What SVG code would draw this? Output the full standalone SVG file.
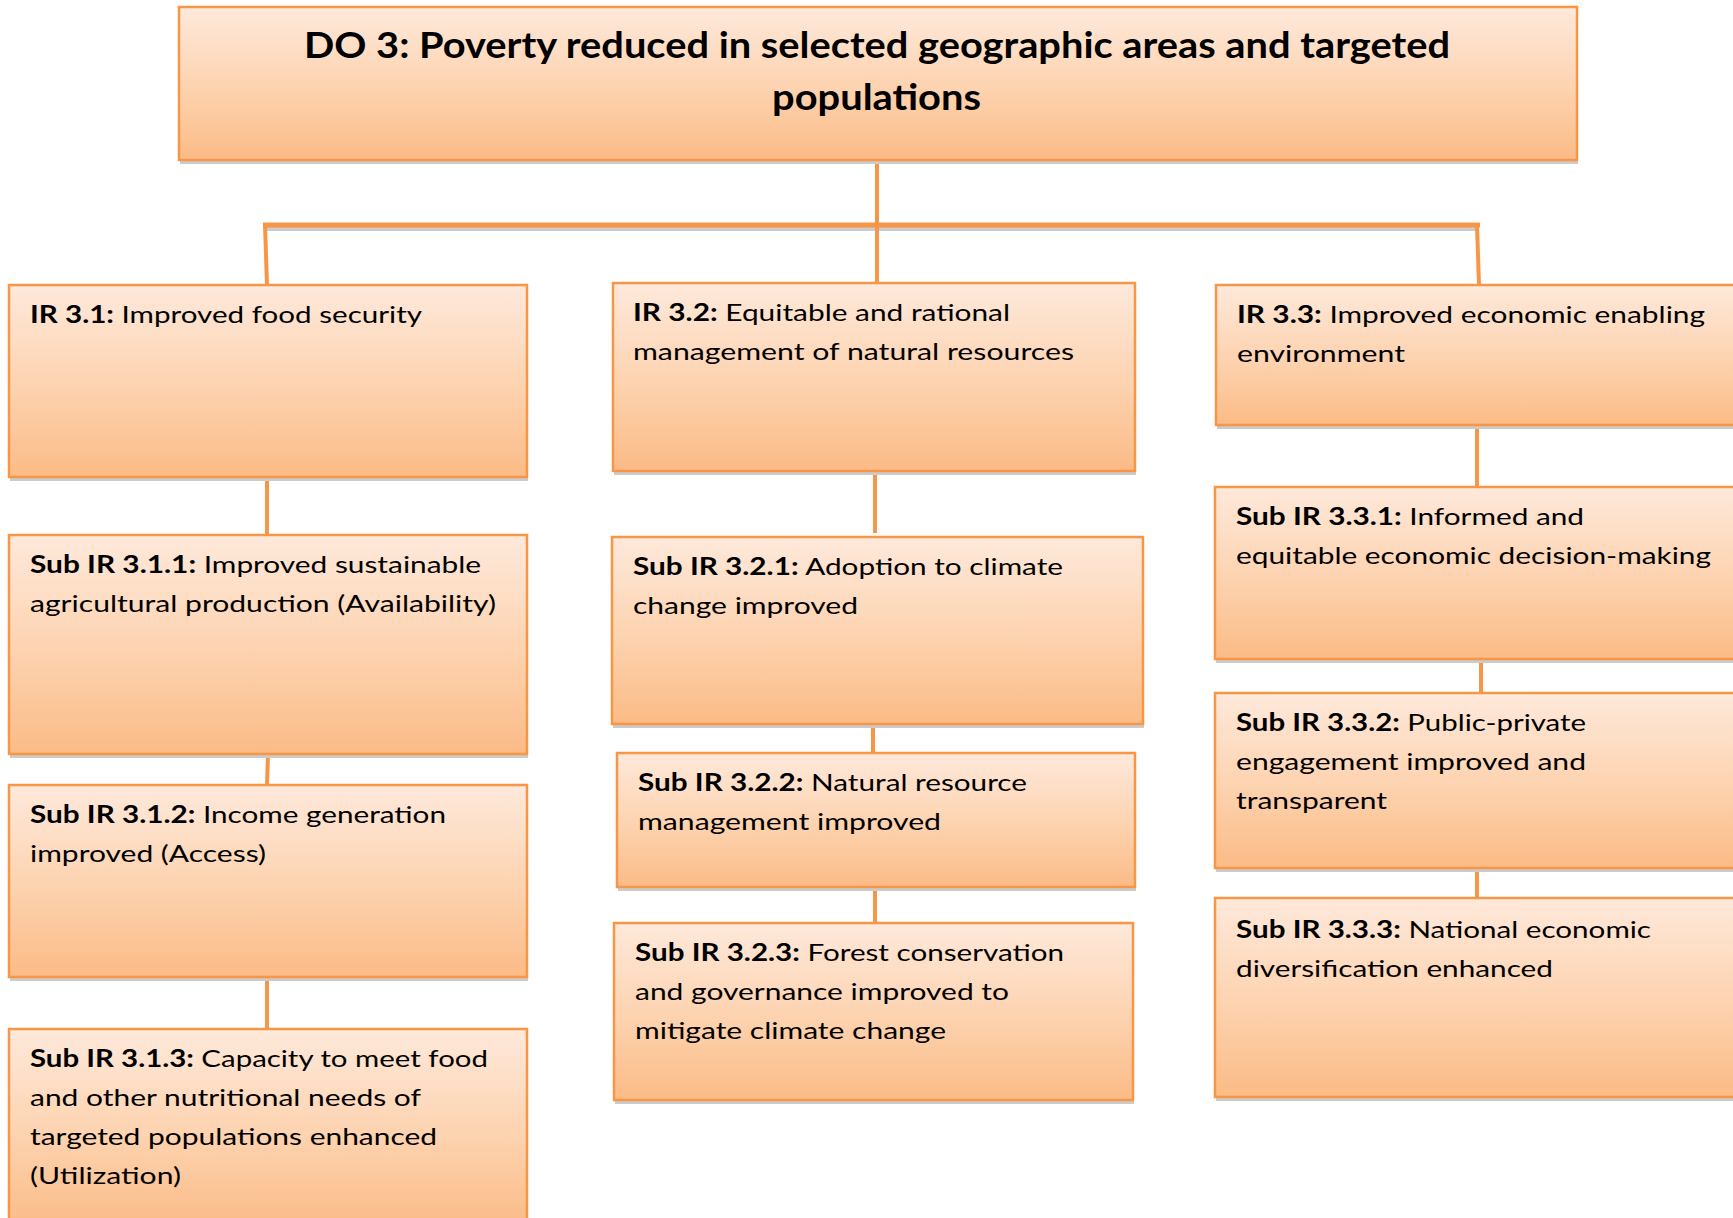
<svg xmlns="http://www.w3.org/2000/svg" width="1733" height="1218" viewBox="0 0 1733 1218">
<defs>
<linearGradient id="g" x1="0" y1="0" x2="0" y2="1">
<stop offset="0" stop-color="#FEE9DB"/>
<stop offset="0.55" stop-color="#FDD2AE"/>
<stop offset="1" stop-color="#FBBB86"/>
</linearGradient>
<style>
.box{fill:url(#g);stroke:#F79646;stroke-width:2.5}
.sh{fill:#CBCBCB}
.c{stroke:#F79646;stroke-width:4;fill:none}
.cs{stroke:#CBCBCB;stroke-width:4;fill:none}
.t{font-family:Lato,"Open Sans","Liberation Sans",sans-serif;font-size:24px;fill:#000}
.ti{font-family:Lato,"Open Sans","Liberation Sans",sans-serif;font-size:36px;font-weight:bold;fill:#000}
.b{font-weight:bold}
</style>
</defs>
<rect width="1733" height="1218" fill="#fff"/>

<g id="connectors">
<line class="cs" x1="265" y1="229" x2="1478" y2="229"/>
<line class="c" x1="877" y1="160" x2="877" y2="283"/>
<line class="c" x1="263" y1="225" x2="1480" y2="225" style="stroke-width:5"/>
<line class="c" x1="265" y1="225" x2="267" y2="285"/>
<line class="c" x1="1477" y1="225" x2="1479" y2="285"/>
<line class="c" x1="267" y1="477" x2="267" y2="535"/>
<line class="c" x1="268" y1="754" x2="267" y2="785"/>
<line class="c" x1="267" y1="977" x2="267" y2="1029"/>
<line class="c" x1="875" y1="471" x2="875" y2="533"/>
<line class="c" x1="873" y1="718" x2="873" y2="753"/>
<line class="c" x1="875" y1="887" x2="875" y2="923"/>
<line class="c" x1="1477" y1="425" x2="1477" y2="487"/>
<line class="c" x1="1481" y1="659" x2="1481" y2="693"/>
<line class="c" x1="1477" y1="868" x2="1477" y2="898"/>
</g>

<g id="do3">
<rect class="sh" x="180" y="11" width="1398" height="153"/>
<rect class="box" x="179" y="7" width="1398" height="153"/>
<text class="ti" x="304" y="58" textLength="1146" lengthAdjust="spacingAndGlyphs">DO 3: Poverty reduced in selected geographic areas and targeted</text>
<text class="ti" x="772" y="110" textLength="209" lengthAdjust="spacingAndGlyphs">populations</text>
</g>

<g id="ir31">
<rect class="sh" x="10" y="289" width="518" height="192"/>
<rect class="box" x="9" y="285" width="518" height="192"/>
<text class="t" x="30" y="323" textLength="392" lengthAdjust="spacingAndGlyphs"><tspan class="b">IR 3.1:</tspan> Improved food security</text>
</g>

<g id="ir32">
<rect class="sh" x="614" y="287" width="522" height="188"/>
<rect class="box" x="613" y="283" width="522" height="188"/>
<text class="t" x="633" y="321" textLength="377" lengthAdjust="spacingAndGlyphs"><tspan class="b">IR 3.2:</tspan> Equitable and rational</text>
<text class="t" x="633" y="360" textLength="441" lengthAdjust="spacingAndGlyphs">management of natural resources</text>
</g>

<g id="ir33">
<rect class="sh" x="1217" y="289" width="530" height="140"/>
<rect class="box" x="1216" y="285" width="530" height="140"/>
<text class="t" x="1237" y="323" textLength="468" lengthAdjust="spacingAndGlyphs"><tspan class="b">IR 3.3:</tspan> Improved economic enabling</text>
<text class="t" x="1237" y="362" textLength="168" lengthAdjust="spacingAndGlyphs">environment</text>
</g>

<g id="sub311">
<rect class="sh" x="10" y="539" width="518" height="219"/>
<rect class="box" x="9" y="535" width="518" height="219"/>
<text class="t" x="30" y="573" textLength="451" lengthAdjust="spacingAndGlyphs"><tspan class="b">Sub IR 3.1.1:</tspan> Improved sustainable</text>
<text class="t" x="30" y="612" textLength="466" lengthAdjust="spacingAndGlyphs">agricultural production (Availability)</text>
</g>

<g id="sub312">
<rect class="sh" x="10" y="789" width="518" height="192"/>
<rect class="box" x="9" y="785" width="518" height="192"/>
<text class="t" x="30" y="823" textLength="416" lengthAdjust="spacingAndGlyphs"><tspan class="b">Sub IR 3.1.2:</tspan> Income generation</text>
<text class="t" x="30" y="862" textLength="236" lengthAdjust="spacingAndGlyphs">improved (Access)</text>
</g>

<g id="sub313">
<rect class="box" x="9" y="1029" width="518" height="200"/>
<text class="t" x="30" y="1067" textLength="458" lengthAdjust="spacingAndGlyphs"><tspan class="b">Sub IR 3.1.3:</tspan> Capacity to meet food</text>
<text class="t" x="30" y="1106" textLength="391" lengthAdjust="spacingAndGlyphs">and other nutritional needs of</text>
<text class="t" x="30" y="1145" textLength="407" lengthAdjust="spacingAndGlyphs">targeted populations enhanced</text>
<text class="t" x="30" y="1184" textLength="151" lengthAdjust="spacingAndGlyphs">(Utilization)</text>
</g>

<g id="sub321">
<rect class="sh" x="613" y="541" width="531" height="187"/>
<rect class="box" x="612" y="537" width="531" height="187"/>
<text class="t" x="633" y="575" textLength="430" lengthAdjust="spacingAndGlyphs"><tspan class="b">Sub IR 3.2.1:</tspan> Adoption to climate</text>
<text class="t" x="633" y="614" textLength="225" lengthAdjust="spacingAndGlyphs">change improved</text>
</g>

<g id="sub322">
<rect class="sh" x="618" y="757" width="518" height="134"/>
<rect class="box" x="617" y="753" width="518" height="134"/>
<text class="t" x="638" y="791" textLength="389" lengthAdjust="spacingAndGlyphs"><tspan class="b">Sub IR 3.2.2:</tspan> Natural resource</text>
<text class="t" x="638" y="830" textLength="303" lengthAdjust="spacingAndGlyphs">management improved</text>
</g>

<g id="sub323">
<rect class="sh" x="615" y="927" width="519" height="177"/>
<rect class="box" x="614" y="923" width="519" height="177"/>
<text class="t" x="635" y="961" textLength="429" lengthAdjust="spacingAndGlyphs"><tspan class="b">Sub IR 3.2.3:</tspan> Forest conservation</text>
<text class="t" x="635" y="1000" textLength="374" lengthAdjust="spacingAndGlyphs">and governance improved to</text>
<text class="t" x="635" y="1039" textLength="311" lengthAdjust="spacingAndGlyphs">mitigate climate change</text>
</g>

<g id="sub331">
<rect class="sh" x="1216" y="491" width="530" height="172"/>
<rect class="box" x="1215" y="487" width="530" height="172"/>
<text class="t" x="1236" y="525" textLength="348" lengthAdjust="spacingAndGlyphs"><tspan class="b">Sub IR 3.3.1:</tspan> Informed and</text>
<text class="t" x="1236" y="564" textLength="475" lengthAdjust="spacingAndGlyphs">equitable economic decision-making</text>
</g>

<g id="sub332">
<rect class="sh" x="1216" y="697" width="530" height="175"/>
<rect class="box" x="1215" y="693" width="530" height="175"/>
<text class="t" x="1236" y="731" textLength="350" lengthAdjust="spacingAndGlyphs"><tspan class="b">Sub IR 3.3.2:</tspan> Public-private</text>
<text class="t" x="1236" y="770" textLength="350" lengthAdjust="spacingAndGlyphs">engagement improved and</text>
<text class="t" x="1236" y="809" textLength="151" lengthAdjust="spacingAndGlyphs">transparent</text>
</g>

<g id="sub333">
<rect class="sh" x="1216" y="902" width="530" height="199"/>
<rect class="box" x="1215" y="898" width="530" height="199"/>
<text class="t" x="1236" y="938" textLength="415" lengthAdjust="spacingAndGlyphs"><tspan class="b">Sub IR 3.3.3:</tspan> National economic</text>
<text class="t" x="1236" y="977" textLength="317" lengthAdjust="spacingAndGlyphs">diversification enhanced</text>
</g>
</svg>
